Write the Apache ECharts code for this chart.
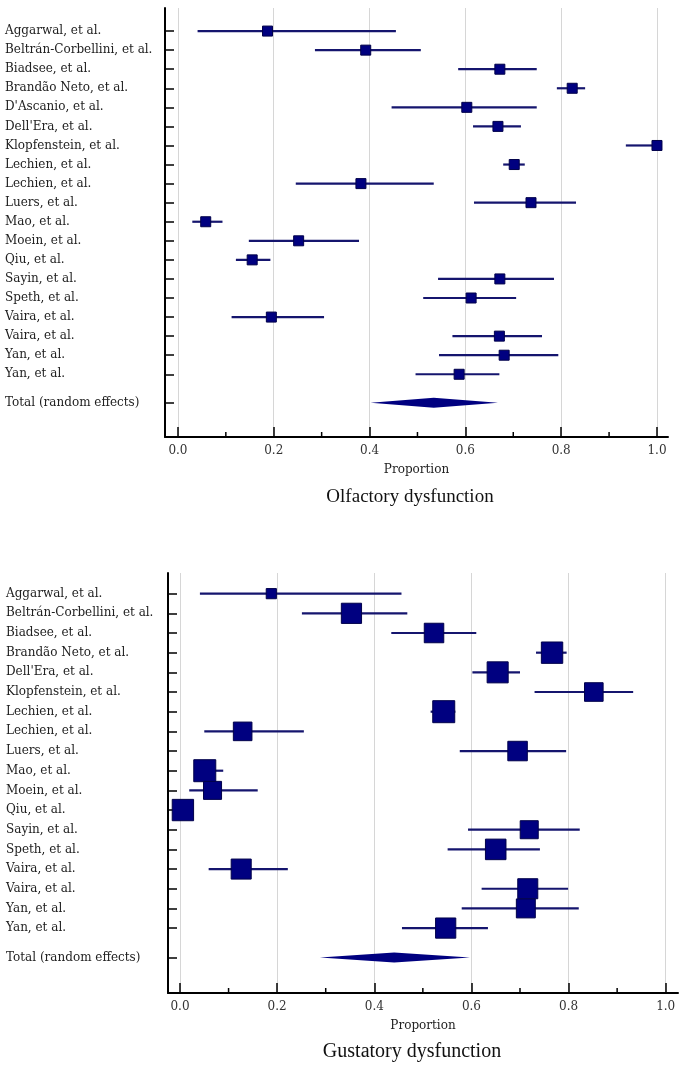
<!DOCTYPE html>
<html>
<head>
<meta charset="utf-8">
<script src="https://cdn.jsdelivr.net/npm/echarts@6/dist/echarts.min.js"></script>
<style>
html,body{margin:0;padding:0;background:#fff;}
#c{width:688px;height:1071px;}
</style>
</head>
<body>
<div id="c"></div>
<script>
// ---------- DATA ----------
const olfStudies = ["Aggarwal, et al.", "Beltrán-Corbellini, et al.", "Biadsee, et al.", "Brandão Neto, et al.", "D'Ascanio, et al.", "Dell'Era, et al.", "Klopfenstein, et al.", "Lechien, et al.", "Lechien, et al.", "Luers, et al.", "Mao, et al.", "Moein, et al.", "Qiu, et al.", "Sayin, et al.", "Speth, et al.", "Vaira, et al.", "Vaira, et al.", "Yan, et al.", "Yan, et al."];
const olfEst  = [0.187, 0.392, 0.672, 0.823, 0.603, 0.668, 1.000, 0.702, 0.382, 0.737, 0.058, 0.252, 0.155, 0.672, 0.612, 0.195, 0.671, 0.681, 0.587];
const olfLow  = [0.041, 0.286, 0.585, 0.791, 0.446, 0.616, 0.935, 0.679, 0.246, 0.618, 0.030, 0.148, 0.121, 0.543, 0.512, 0.112, 0.573, 0.545, 0.496];
const olfHigh = [0.455, 0.507, 0.749, 0.850, 0.749, 0.716, 1.000, 0.724, 0.534, 0.831, 0.093, 0.378, 0.193, 0.785, 0.706, 0.305, 0.760, 0.794, 0.671];
const olfTotal = [0.402, 0.534, 0.668]; // low, estimate, high

const gustStudies = ["Aggarwal, et al.", "Beltrán-Corbellini, et al.", "Biadsee, et al.", "Brandão Neto, et al.", "Dell'Era, et al.", "Klopfenstein, et al.", "Lechien, et al.", "Lechien, et al.", "Luers, et al.", "Mao, et al.", "Moein, et al.", "Qiu, et al.", "Sayin, et al.", "Speth, et al.", "Vaira, et al.", "Vaira, et al.", "Yan, et al.", "Yan, et al."];
const gustEst  = [0.188, 0.353, 0.523, 0.766, 0.654, 0.852, 0.543, 0.129, 0.695, 0.051, 0.067, 0.006, 0.719, 0.650, 0.126, 0.716, 0.712, 0.547];
const gustLow  = [0.041, 0.251, 0.435, 0.733, 0.602, 0.730, 0.516, 0.050, 0.576, 0.029, 0.019, 0.000, 0.593, 0.551, 0.059, 0.621, 0.580, 0.457];
const gustHigh = [0.456, 0.468, 0.610, 0.796, 0.700, 0.933, 0.567, 0.255, 0.795, 0.089, 0.160, 0.022, 0.823, 0.741, 0.222, 0.799, 0.821, 0.634];
const gustWeight = [1.5, 5.9, 5.5, 6.6, 6.4, 5.0, 7.0, 5.0, 5.5, 7.0, 4.7, 6.6, 4.7, 6.1, 5.8, 5.8, 5.2, 5.9];
const gustTotal = [0.288, 0.441, 0.597];

const totalLabel = "Total (random effects)";
const majorTicks = [0, 0.2, 0.4, 0.6, 0.8, 1.0];
const minorTicks = [0.1, 0.3, 0.5, 0.7, 0.9];
const xTitle = "Proportion";
const titles = ["Olfactory dysfunction", "Gustatory dysfunction"];

// ---------- STYLE ----------
const SMALL_FONT = '"DejaVu Serif", serif';
const TITLE_FONT = '"Liberation Serif", serif';
const NAVY = '#000080';
const LINE = '#15156e';

const chart = echarts.init(document.getElementById('c'), null, {renderer: 'canvas'});

function rowPositions(names) { return names.map((_, i) => i); }

function yAxisFor(gridIndex, names, min, max, margin) {
  const rows = rowPositions(names);
  const totalPos = names.length + 0.5;
  const vals = rows.concat([totalPos]);
  return {
    gridIndex, type: 'value', inverse: true, min, max,
    axisLine: {show: true, onZero: false, lineStyle: {color: '#000', width: 2}},
    axisTick: {show: true, inside: true, length: 9, customValues: vals, lineStyle: {color: '#000', width: 1.5}},
    axisLabel: {
      show: true, customValues: vals, margin, align: 'left',
      fontFamily: SMALL_FONT, fontSize: 12, color: '#222',
      formatter: v => (Math.abs(v - totalPos) < 1e-6 ? totalLabel : names[Math.round(v)])
    },
    splitLine: {show: false}
  };
}

function xAxisFor(gridIndex, min, max) {
  return {
    gridIndex, type: 'value', min, max,
    name: xTitle, nameLocation: 'middle', nameGap: 27,
    nameTextStyle: {fontFamily: SMALL_FONT, fontSize: 12, color: '#222'},
    axisLine: {show: true, onZero: false, lineStyle: {color: '#000', width: 2}},
    axisTick: {show: true, inside: true, length: 10, customValues: majorTicks, lineStyle: {color: '#000', width: 1.5}},
    axisLabel: {show: true, customValues: majorTicks, margin: 8, fontFamily: SMALL_FONT, fontSize: 12, color: '#333',
      formatter: v => v.toFixed(1)},
    splitLine: {show: true, lineStyle: {color: '#d6d6d6', width: 1}}
  };
}

function studySeries(idx, est, lo, hi, sizes) {
  return {
    type: 'custom', xAxisIndex: idx, yAxisIndex: idx, clip: false, z: 5,
    data: est.map((e, i) => [lo[i], hi[i], e, i, sizes[i]]),
    encode: {x: [0, 1, 2], y: 3},
    renderItem: (params, api) => {
      const y = api.value(3);
      const a = api.coord([api.value(0), y]);
      const b = api.coord([api.value(1), y]);
      const c = api.coord([api.value(2), y]);
      const s = api.value(4);
      return {type: 'group', children: [
        {type: 'line', shape: {x1: a[0], y1: a[1], x2: b[0], y2: b[1]}, style: {stroke: LINE, lineWidth: 2.2}},
        {type: 'rect', shape: {x: c[0] - s / 2, y: c[1] - s / 2, width: s, height: s},
          style: {fill: NAVY, stroke: '#00004a', lineWidth: 1}}
      ]};
    }
  };
}

function totalSeries(idx, tot, pos) {
  return {
    type: 'custom', xAxisIndex: idx, yAxisIndex: idx, clip: false, z: 5,
    data: [[tot[0], tot[1], tot[2], pos]],
    encode: {x: [0, 1, 2], y: 3},
    renderItem: (params, api) => {
      const y = api.value(3);
      const l = api.coord([api.value(0), y]);
      const c = api.coord([api.value(1), y]);
      const r = api.coord([api.value(2), y]);
      const h = 5;
      return {type: 'polygon', shape: {points: [[l[0], c[1]], [c[0], c[1] - h], [r[0], c[1]], [c[0], c[1] + h]]},
        style: {fill: NAVY}};
    }
  };
}

function minorTickSeries(idx, yMax) {
  return {
    type: 'custom', xAxisIndex: idx, yAxisIndex: idx, clip: false, z: 4, silent: true,
    data: minorTicks.map(v => [v, yMax]),
    encode: {x: 0, y: 1},
    renderItem: (params, api) => {
      const p = api.coord([api.value(0), api.value(1)]);
      return {type: 'line', shape: {x1: p[0], y1: p[1], x2: p[0], y2: p[1] - 5},
        style: {stroke: '#000', lineWidth: 1.5}};
    }
  };
}

const olfSizes = olfEst.map(() => 10);
const maxW = Math.max.apply(null, gustWeight);
const gustSizes = gustWeight.map(w => 22 * Math.sqrt(w / maxW));

const y0 = {min: -1.21, max: 21.29};
const y1 = {min: -1.05, max: 20.30};

const option = {
  backgroundColor: '#fff',
  animation: false,
  grid: [
    {left: 165, right: 20, top: 8, height: 429},
    {left: 168, right: 10, top: 573, height: 420}
  ],
  xAxis: [xAxisFor(0, -0.027, 1.023), xAxisFor(1, -0.0247, 1.0253)],
  yAxis: [
    yAxisFor(0, olfStudies, y0.min, y0.max, 160),
    yAxisFor(1, gustStudies, y1.min, y1.max, 162)
  ],
  series: [
    studySeries(0, olfEst, olfLow, olfHigh, olfSizes),
    totalSeries(0, olfTotal, olfStudies.length + 0.5),
    minorTickSeries(0, y0.max),
    studySeries(1, gustEst, gustLow, gustHigh, gustSizes),
    totalSeries(1, gustTotal, gustStudies.length + 0.5),
    minorTickSeries(1, y1.max)
  ],
  graphic: [
    {type: 'text', x: 410, y: 497, style: {text: titles[0], font: '19px ' + TITLE_FONT, fill: '#111', align: 'center', verticalAlign: 'middle'}},
    {type: 'text', x: 412, y: 1052, style: {text: titles[1], font: '20px ' + TITLE_FONT, fill: '#111', align: 'center', verticalAlign: 'middle'}}
  ]
};
chart.setOption(option);
</script>
</body>
</html>
